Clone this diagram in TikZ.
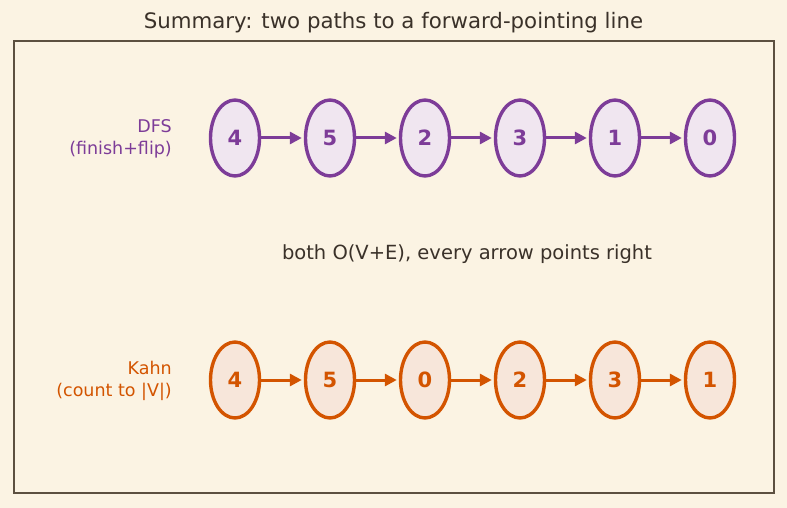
\documentclass[tikz,border=0pt]{standalone}
\usepackage{fontspec}
\setmainfont{DejaVu Sans}
\usetikzlibrary{arrows.meta,shapes.geometric}
\definecolor{bg}{HTML}{FBF3E3}
\definecolor{frame}{HTML}{5C5040}
\definecolor{ink}{HTML}{3A3129}
\definecolor{pstroke}{HTML}{7D3C98}
\definecolor{pfill}{HTML}{F0E6F0}
\definecolor{ostroke}{HTML}{D35400}
\definecolor{ofill}{HTML}{F7E6DA}
\tikzset{
  vnode/.style={ellipse, minimum width=49pt, minimum height=76pt, inner sep=0pt, line width=3.4pt, font=\fontsize{21}{21}\selectfont\bfseries},
  dfsnode/.style={vnode, draw=pstroke, fill=pfill, text=pstroke},
  kahnnode/.style={vnode, draw=ostroke, fill=ofill, text=ostroke},
  dfsarrow/.style={draw=pstroke, line width=3pt, -{Triangle[length=12pt,width=12pt]}, shorten <=0pt, shorten >=2pt},
  kahnarrow/.style={draw=ostroke, line width=3pt, -{Triangle[length=12pt,width=12pt]}, shorten <=0pt, shorten >=2pt},
  rowlabel/.style={align=right, anchor=east, inner sep=0pt, font=\fontsize{17.5}{21.5}\selectfont},
}
\begin{document}
\begin{tikzpicture}[x=1pt,y=-1pt]
\fill[bg] (0,0) rectangle (787,508);
\useasboundingbox (0,0) rectangle (787,508);
\draw[frame, line width=1.5pt] (14,41) rectangle (774,493);
\node[ink, font=\fontsize{21.3}{21.3}\selectfont] (title) at (393.5,23) {Summary: two paths to a forward-pointing line};
\node[ink, font=\fontsize{19.5}{19.5}\selectfont] (note) at (467,254) {both O(V+E), every arrow points right};
\node[rowlabel, text=pstroke] (dfslabel) at (172,139) {DFS\\(finish+flip)};
\node[rowlabel, text=ostroke] (kahnlabel) at (172,381) {Kahn\\(count to |V|)};
\foreach \v [count=\i] in {4,5,2,3,1,0} {
  \node[dfsnode] (d\i) at ({235+95*(\i-1)},138) {\v};
}
\foreach \v [count=\i] in {4,5,0,2,3,1} {
  \node[kahnnode] (k\i) at ({235+95*(\i-1)},380) {\v};
}
\foreach \i [evaluate=\i as \j using int(\i+1)] in {1,...,5} {
  \draw[dfsarrow] (d\i) -- (d\j);
  \draw[kahnarrow] (k\i) -- (k\j);
}
\end{tikzpicture}
\end{document}
